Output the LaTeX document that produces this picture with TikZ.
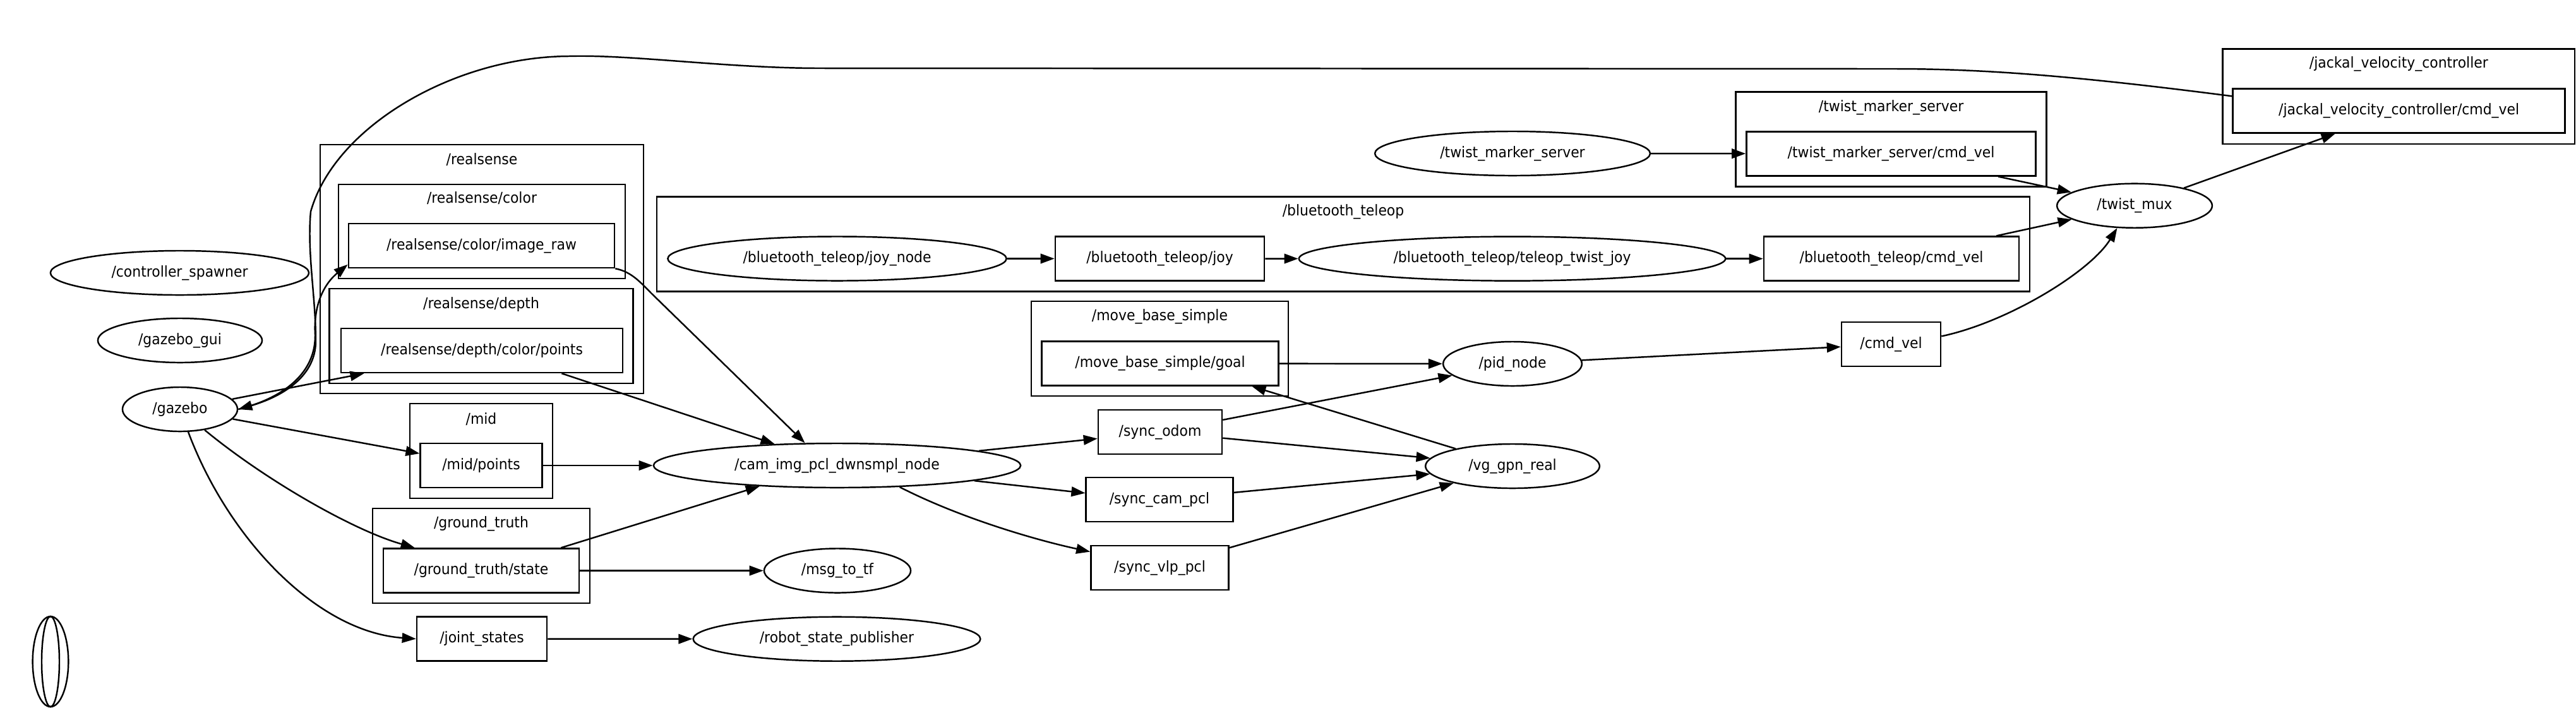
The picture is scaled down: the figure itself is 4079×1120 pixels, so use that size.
\documentclass[tikz,border=0pt]{standalone}
\usepackage{fontspec}
\setmainfont{DejaVu Sans}[FakeStretch=0.93]
\usetikzlibrary{arrows.meta,shapes.geometric}

\tikzset{
  rosnode/.style={draw, ellipse, line width=0.7pt, minimum height=0.7cm, inner sep=0pt},
  topic/.style={draw, rectangle, line width=0.7pt, minimum height=0.7cm, inner sep=0pt},
  cluster/.style={draw, rectangle, line width=0.7pt, inner sep=0pt, minimum height=1.5cm},
  edge/.style={-{Triangle[length=0.22cm,width=0.155cm]}, line width=0.7pt},
}

\begin{document}
\begin{tikzpicture}[x=0.01cm, y=-0.01cm, font=\fontsize{6.7}{8}\selectfont]
\useasboundingbox (0,0) rectangle (4079,1120);

% Namespaces
\node[cluster, minimum width=5.12cm, minimum height=3.94cm] (realsense) at (763,426) {};
\node (realsenselbl) at (763,253) {/realsense};
\node[cluster, minimum width=4.54cm, minimum height=1.49cm] (rscolor) at (763,366.5) {};
\node (rscolorlbl) at (763,314) {/realsense/color};
\node[cluster, minimum width=4.805cm] (rsdepth) at (762,532) {};
\node (rsdepthlbl) at (762,482) {/realsense/depth};
\node[cluster, minimum width=2.255cm] (mid) at (762,714) {};
\node (midlbl) at (762,663.5) {/mid};
\node[cluster, minimum width=3.434cm] (groundtruth) at (762,880) {};
\node (groundtruthlbl) at (762,829) {/ground\_truth};
\node[cluster, minimum width=21.726cm] (bluetooth) at (2127,386.6) {};
\node (bluetoothlbl) at (2127,335) {/bluetooth\_teleop};
\node[cluster, minimum width=4.07cm] (movebase) at (1836.5,552) {};
\node (movebaselbl) at (1836.5,501) {/move\_base\_simple};
\node[cluster, minimum width=4.918cm] (tms) at (2994.6,220.4) {};
\node (tmslbl) at (2994.6,170) {/twist\_marker\_server};
\node[cluster, minimum width=5.574cm] (jackal) at (3798.3,152.7) {};
\node (jackallbl) at (3798.3,101.7) {/jackal\_velocity\_controller};

% Nodes
\node[rosnode, minimum width=4.09cm] (ctrlspawner) at (284.5,432) {/controller\_spawner};
\node[rosnode, minimum width=2.60cm] (gazebogui) at (285,539) {/gazebo\_gui};
\node[rosnode, minimum width=1.82cm] (gazebo) at (285,648) {/gazebo};
\node[rosnode, minimum width=0.566cm, minimum height=1.43cm] (blank) at (80,1047.5) {};
\node[rosnode, minimum width=0.28cm, minimum height=1.43cm] (blankinner) at (80,1047.5) {};
\node[rosnode, minimum width=5.81cm] (camnode) at (1325.5,737) {/cam\_img\_pcl\_dwnsmpl\_node};
\node[rosnode, minimum width=2.32cm] (msgtotf) at (1326,903.5) {/msg\_to\_tf};
\node[rosnode, minimum width=4.545cm] (rsp) at (1325,1011.7) {/robot\_state\_publisher};
\node[rosnode, minimum width=5.36cm] (joynode) at (1325.5,409.5) {/bluetooth\_teleop/joy\_node};
\node[rosnode, minimum width=6.75cm] (teleopjoy) at (2394.5,409.6) {/bluetooth\_teleop/teleop\_twist\_joy};
\node[rosnode, minimum width=4.356cm] (twistmarker) at (2395,243) {/twist\_marker\_server};
\node[rosnode, minimum width=2.196cm] (pidnode) at (2395,576) {/pid\_node};
\node[rosnode, minimum width=2.756cm] (vggpn) at (2395,738) {/vg\_gpn\_real};
\node[rosnode, minimum width=2.457cm] (twistmux) at (3380,325.7) {/twist\_mux};

% Topics
\node[topic, minimum width=4.21cm] (imageraw) at (762.5,389) {/realsense/color/image\_raw};
\node[topic, minimum width=4.46cm] (depthpts) at (763,555) {/realsense/depth/color/points};
\node[topic, minimum width=1.925cm] (midpts) at (762,737) {/mid/points};
\node[topic, minimum width=3.10cm] (gtstate) at (762,903.5) {/ground\_truth/state};
\node[topic, minimum width=2.06cm] (jointstates) at (763,1011.5) {/joint\_states};
\node[topic, minimum width=3.31cm] (joy) at (1836.5,409.5) {/bluetooth\_teleop/joy};
\node[topic, minimum width=3.745cm] (goal) at (1837,575.5) {/move\_base\_simple/goal};
\node[topic, minimum width=1.96cm] (syncodom) at (1837,684) {/sync\_odom};
\node[topic, minimum width=2.326cm] (synccam) at (1836,791) {/sync\_cam\_pcl};
\node[topic, minimum width=2.18cm] (syncvlp) at (1836.5,899) {/sync\_vlp\_pcl};
\node[topic, minimum width=4.04cm] (btcmdvel) at (2995,409.6) {/bluetooth\_teleop/cmd\_vel};
\node[topic, minimum width=4.58cm] (tmscmdvel) at (2994.5,243.3) {/twist\_marker\_server/cmd\_vel};
\node[topic, minimum width=1.57cm] (cmdvel) at (2994.5,545) {/cmd\_vel};
\node[topic, minimum width=5.257cm] (jackalcmd) at (3798.6,175.4) {/jackal\_velocity\_controller/cmd\_vel};

% gazebo in and out
\draw[edge] (gazebo.east) .. controls (450,630) and (500,590) .. (499,530) .. controls (496,480) and (515,448) .. (imageraw.188);
\draw[edge] (gazebo) -- (depthpts.191);
\draw[edge] (gazebo) -- (midpts.169);
\draw[edge] (gazebo.320) .. controls (420,760) and (560,840) .. (gtstate.161);
\draw[edge] (gazebo.290) .. controls (360,850) and (500,1000) .. (jointstates.west);
\draw[edge] (jackalcmd.175) .. controls (3300,122) and (3150,109) .. (3000,109) -- (1300,108)
  .. controls (1150,108) and (1000,86) .. (900,89) .. controls (720,90) and (530,200) .. (492,335)
  .. controls (486,400) and (500,470) .. (500,540) .. controls (500,600) and (440,630) .. (gazebo.east);

% downsampling
\draw[edge] (midpts) -- (camnode);
\draw[edge] (depthpts.344) -- (camnode.161);
\draw[edge] (imageraw.south east) .. controls (1000,430) and (1015,448) .. (1032,465) -- (camnode.145);
\draw[edge] (gtstate.16) -- (camnode.195);
\draw[edge] (gtstate) -- (msgtotf);
\draw[edge] (jointstates) -- (rsp);
\draw[edge] (camnode) -- (syncodom.186);
\draw[edge] (camnode) -- (synccam.175);
\draw[edge] (camnode.341) .. controls (1520,820) and (1640,855) .. (syncvlp.167);

% planner and control
\draw[edge] (syncodom) -- (pidnode);
\draw[edge] (syncodom) -- (vggpn);
\draw[edge] (synccam) -- (vggpn);
\draw[edge] (syncvlp) -- (vggpn);
\draw[edge] (vggpn) -- (goal.346);
\draw[edge] (goal) -- (pidnode);
\draw[edge] (pidnode) -- (cmdvel);
\draw[edge] (cmdvel.9) .. controls (3180,510) and (3310,430) .. (twistmux.232);

% teleop and mux
\draw[edge] (joynode) -- (joy);
\draw[edge] (joy) -- (teleopjoy);
\draw[edge] (teleopjoy) -- (btcmdvel);
\draw[edge] (twistmarker) -- (tmscmdvel);
\draw[edge] (tmscmdvel) -- (twistmux);
\draw[edge] (btcmdvel) -- (twistmux);
\draw[edge] (twistmux) -- (jackalcmd);
\end{tikzpicture}
\end{document}
